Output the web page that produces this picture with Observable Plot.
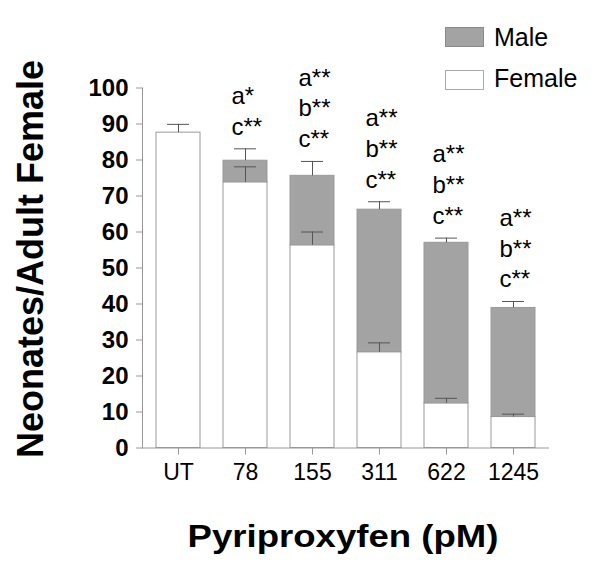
<!DOCTYPE html>
<html><head><meta charset="utf-8">
<script src="https://cdn.jsdelivr.net/npm/d3@7"></script>
<script src="https://cdn.jsdelivr.net/npm/@observablehq/plot@0.6"></script>
<style>
body{margin:0;background:#fff;font-family:"Liberation Sans",Arial,sans-serif;}
#wrap{position:relative;width:600px;height:579px;}
.sw{position:absolute;width:37px;height:18px;border:1px solid #999;box-sizing:content-box;}
.lt{position:absolute;font-size:25px;line-height:25px;white-space:nowrap;color:#000;font-family:"Liberation Sans",Arial,sans-serif;}
</style></head><body><div id="wrap"></div>
<script>
const categories = ["UT", "78", "155", "311", "622", "1245"];
const female = [87.6, 73.8, 56.3, 26.6, 12.4, 8.6];
const male = [0, 6.0, 19.3, 39.6, 44.6, 30.3];
const femaleErr = [2.3, 4.3, 3.7, 2.6, 1.4, 0.8];
const totalErr = [null, 3.3, 4.0, 2.2, 1.3, 1.8];
const labels = ["", "a*\nc**", "a**\nb**\nc**", "a**\nb**\nc**", "a**\nb**\nc**", "a**\nb**\nc**"];
const yTicks = d3.range(0, 101, 10);
const sexes = ["Female", "Male"];
const sexColors = ["#ffffff", "#a3a3a3"];
const legendOrder = ["Male", "Female"];

const rows = [];
categories.forEach((c, i) => {
  rows.push({cat: c, sex: "Female", value: female[i]});
  rows.push({cat: c, sex: "Male", value: male[i]});
});
const err = categories.map((c, i) => ({
  cat: c,
  f: female[i],
  fTop: female[i] + femaleErr[i],
  t: female[i] + male[i],
  tTop: totalErr[i] == null ? null : female[i] + male[i] + totalErr[i],
  label: labels[i]
}));
const totErr = err.filter(d => d.tTop != null);

const font = "Liberation Sans, Arial, sans-serif";
const ebColor = "#555";

const chart = Plot.plot({
  width: 600,
  height: 579,
  marginLeft: 142,
  marginRight: 51,
  marginTop: 87.5,
  marginBottom: 131.5,
  style: {fontFamily: font, background: "white", color: "black", overflow: "visible"},
  x: {type: "band", domain: categories, paddingInner: 0.34, paddingOuter: 0.17, label: null},
  y: {domain: [0, 100], label: null},
  color: {domain: sexes, range: sexColors},
  marks: [
    Plot.barY(rows, Plot.stackY({x: "cat", y: "value", fill: "sex", stroke: "#999", strokeWidth: 1})),
    Plot.ruleX(err, {x: "cat", y1: "f", y2: "fTop", stroke: ebColor}),
    Plot.tickY(err, {x: "cat", y: "fTop", stroke: ebColor, insetLeft: 11, insetRight: 11}),
    Plot.ruleX(totErr, {x: "cat", y1: "t", y2: "tTop", stroke: ebColor}),
    Plot.tickY(totErr, {x: "cat", y: "tTop", stroke: ebColor, insetLeft: 11, insetRight: 11}),
    Plot.text(err.filter(d => d.label), {
      x: "cat", y: d => d.tTop ?? d.fTop, text: "label",
      textAnchor: "start", lineAnchor: "bottom", lineHeight: 1.29,
      fontSize: 24, dx: -14, dy: -14, fill: "black"
    }),
    Plot.ruleY([0], {stroke: "#999"}),
    Plot.frame({anchor: "left", stroke: "#999"}),
    Plot.axisY(yTicks, {tickSize: 6, tickPadding: 8, fontSize: 24, fontWeight: "bold", stroke: "#999", fill: "black", label: null}),
    Plot.axisX({tickSize: 7, tickPadding: 9, fontSize: 23, stroke: "#999", fill: "black", label: null}),
    Plot.text(["Neonates/Adult Female"], {
      text: d => d, frameAnchor: "left", rotate: -90, fontSize: 36, fontWeight: "bold",
      dx: -111, dy: -9, lineAnchor: "middle", textAnchor: "middle", fill: "black"
    }),
    Plot.text(["Pyriproxyfen (pM)"], {
      text: d => d, frameAnchor: "bottom", fontSize: 31, fontWeight: "bold",
      dx: -3, dy: 89, lineAnchor: "middle", textAnchor: "middle", fill: "black"
    })
  ]
});

const wrap = document.getElementById("wrap");
wrap.appendChild(chart);

// stretch the x title horizontally as in the reference
chart.querySelectorAll("text").forEach(el => {
  if (el.textContent === "Pyriproxyfen (pM)") {
    const g = document.createElementNS("http://www.w3.org/2000/svg", "g");
    el.parentNode.insertBefore(g, el);
    g.appendChild(el);
    const bb = g.getBBox();
    const s = 311 / bb.width;
    const cx = bb.x + bb.width / 2;
    g.setAttribute("transform", `translate(${cx},0) scale(${s},1) translate(${-cx},0)`);
  }
});

// legend (HTML overlay)
legendOrder.forEach((name, k) => {
  const sw = document.createElement("div");
  sw.className = "sw";
  sw.style.left = "445px";
  sw.style.top = (27 + k * 42.6) + "px";
  sw.style.background = sexColors[sexes.indexOf(name)];
  sw.style.borderColor = name === "Male" ? "#8a8a8a" : "#aaa";
  wrap.appendChild(sw);
  const t = document.createElement("div");
  t.className = "lt";
  t.style.left = "494px";
  t.style.top = (25 + k * 41.3) + "px";
  t.textContent = name;
  wrap.appendChild(t);
});
</script></body></html>
